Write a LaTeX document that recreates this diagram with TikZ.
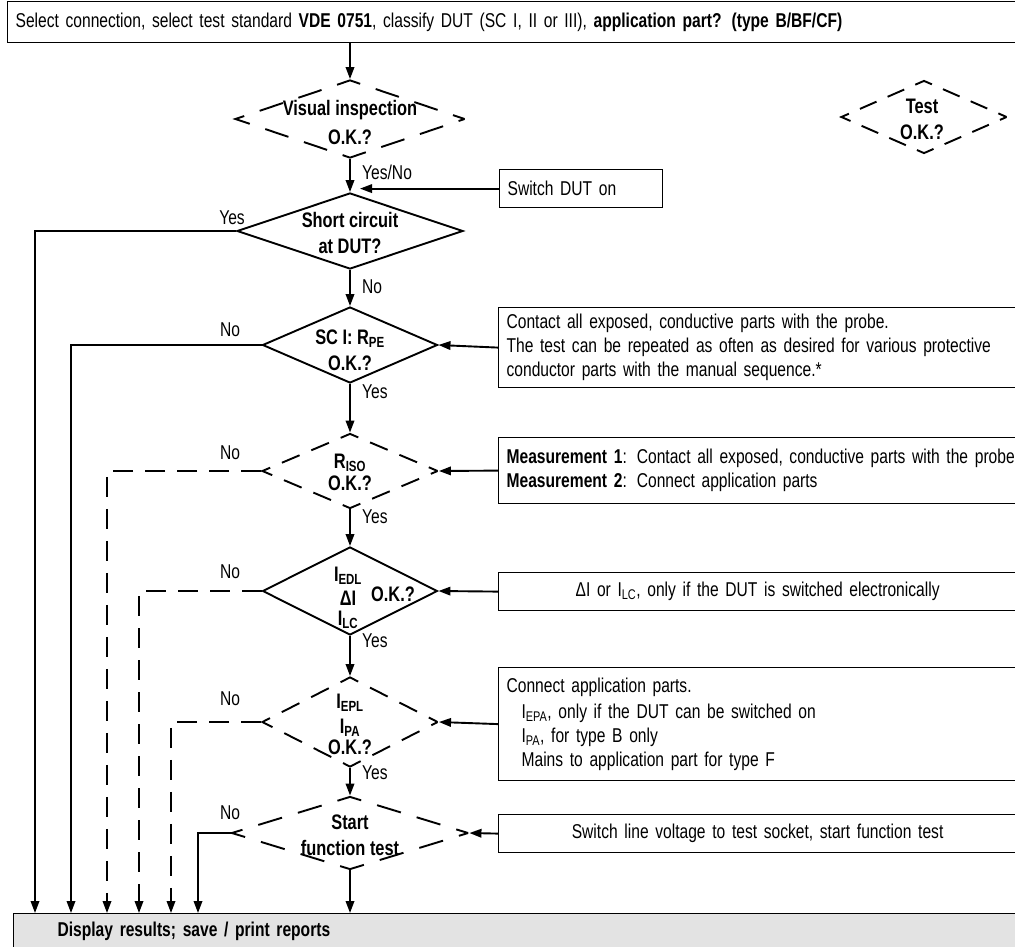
\documentclass[tikz,border=0pt]{standalone}
\usepackage{fontspec}
\setmainfont{Liberation Sans}[FakeStretch=0.78]
\usetikzlibrary{shapes.geometric,arrows.meta,positioning}

\begin{document}
\begin{tikzpicture}[
    x=1pt, y=-1pt,
    box/.style={rectangle, draw, line width=1.2pt, inner xsep=8pt, inner ysep=0pt, anchor=north west, font=\fontsize{20}{24}\selectfont},
    dia/.style={diamond, draw, line width=1.9pt, inner sep=0pt},
    okdash/.style={dash pattern=on 1.2*#1 off 0.8*#1, dash phase=0.6*#1},
    diatxt/.style={font=\fontsize{21}{26}\selectfont\bfseries, align=center, inner sep=0pt},
    lab/.style={font=\fontsize{20}{22}\selectfont, inner sep=0pt},
    arrow/.style={line width=1.9pt, -{Triangle[length=12pt,width=8.5pt]}},
    noline/.style={dash pattern=on 20pt off 12pt}
]
\useasboundingbox (0,0) rectangle (1015,947);

% Boxes
\node[box, minimum height=41pt, text width=1010pt, align=left] (sel) at (7,1)
  {Select connection, select test standard \textbf{VDE 0751}, classify DUT (SC I, II or III), \textbf{application part? (type B/BF/CF)}};
\node[box, minimum height=38pt, text width=147pt, align=left] (swon) at (499,169) {Switch DUT on};
\node[box, minimum height=80pt, text width=520pt, align=left] (contact) at (498,307)
  {Contact all exposed, conductive parts with the probe.\\
   The test can be repeated as often as desired for various protective\\
   conductor parts with the manual sequence.*};
\node[box, minimum height=66pt, text width=520pt, align=left] (meas) at (498,437)
  {\textbf{Measurement 1}: Contact all exposed, conductive parts with the probe\\
   \textbf{Measurement 2}: Connect application parts};
\node[box, minimum height=38pt, text width=502pt, align=center] (delta) at (498,572)
  {ΔI or I\textsubscript{LC}, only if the DUT is switched electronically};
\node[box, minimum height=113pt, text width=520pt, align=left] (appl) at (498,667)
  {Connect application parts.\\[2pt]
   \hspace*{15pt}I\textsubscript{EPA}, only if the DUT can be switched on\\
   \hspace*{15pt}I\textsubscript{PA}, for type B only\\
   \hspace*{15pt}Mains to application part for type F};
\node[box, minimum height=38pt, text width=502pt, align=center] (swlv) at (498,814)
  {Switch line voltage to test socket, start function test};
\node[box, minimum height=36pt, text width=960pt, inner xsep=44pt, align=left, fill=black!11] (res) at (13,913)
  {\textbf{Display results; save / print reports}};

% Decisions
\node[dia, minimum width=230pt, minimum height=78pt, okdash=20.4pt] (vis) at (350,119) {};
\node[dia, minimum width=166pt, minimum height=73pt, okdash=15.1pt] (test) at (924,117) {};
\node[dia, minimum width=226pt, minimum height=76pt] (sc) at (350,231) {};
\node[dia, minimum width=175pt, minimum height=76pt] (sci) at (350,345) {};
\node[dia, minimum width=176pt, minimum height=75pt, okdash=15.95pt] (iso) at (350,471) {};
\node[dia, minimum width=175pt, minimum height=88pt] (edl) at (350,591) {};
\node[dia, minimum width=176pt, minimum height=90pt, okdash=16.5pt] (epl) at (350,722) {};
\node[dia, minimum width=237pt, minimum height=73pt, okdash=20.7pt] (start) at (350,833) {};

\node[diatxt] (vis-t) at (350,122) {Visual inspection\\[3pt]O.K.?};
\node[diatxt] (test-t) at (922,119) {Test\\O.K.?};
\node[diatxt] (sc-t) at (350,233) {Short circuit\\at DUT?};
\node[diatxt] (sci-t) at (350,350) {SC I: R\textsubscript{PE}\\O.K.?};
\node[diatxt] (iso-t) at (350,472) {R\textsubscript{ISO}\\[-4pt]O.K.?};
\node[diatxt] (edl-t) at (348,598) {I\textsubscript{EDL}\\[-2pt]ΔI\\[-6pt]I\textsubscript{LC}};
\node[diatxt] (edl-ok) at (393,594) {O.K.?};
\node[diatxt] (epl-t) at (350,724) {I\textsubscript{EPL}\\[-1pt]I\textsubscript{PA}\\[-5pt]O.K.?};
\node[diatxt] (start-t) at (350,835) {Start\\function test};

% Labels
\node[lab, anchor=west] (vis-yn) at (362,172) {Yes/No};
\node[lab] (sc-yes) at (232,218) {Yes};
\node[lab, anchor=west] (sc-no) at (362,287) {No};
\node[lab] (sci-no) at (230,330) {No};
\node[lab, anchor=west] (sci-yes) at (362,392) {Yes};
\node[lab] (iso-no) at (230,453) {No};
\node[lab, anchor=west] (iso-yes) at (362,517) {Yes};
\node[lab] (edl-no) at (230,572) {No};
\node[lab, anchor=west] (edl-yes) at (362,641) {Yes};
\node[lab] (epl-no) at (230,699) {No};
\node[lab, anchor=west] (epl-yes) at (362,773) {Yes};
\node[lab] (start-no) at (230,813) {No};

% Main path
\draw[arrow] (sel.south -| vis.north) -- (vis.north);
\draw[arrow] (vis.south) -- (sc.north);
\draw[arrow] (sc.south) -- (sci.north);
\draw[arrow] (sci.south) -- (iso.north);
\draw[arrow] (iso.south) -- (edl.north);
\draw[arrow] (edl.south) -- (epl.north);
\draw[arrow] (epl.south) -- (start.north);
\draw[arrow] (start.south) -- (start.south |- res.north);

% Side inputs
\draw[arrow] (swon.west) -- ([xshift=10pt]swon.west -| sc.north);
\draw[arrow] (contact.west) -- (sci.east);
\draw[arrow] (meas.west) -- (iso.east);
\draw[arrow] (delta.west) -- (edl.east);
\draw[arrow] (appl.west) -- (epl.east);
\draw[arrow] (swlv.west) -- (start.east);

% Exits to results
\draw[arrow] (sc.west) -| ([xshift=22pt]res.north west);
\draw[arrow] (sci.west) -| ([xshift=58pt]res.north west);
\draw[arrow, noline] (iso.west) -| ([xshift=94pt]res.north west);
\draw[arrow, noline] (edl.west) -| ([xshift=126pt]res.north west);
\draw[arrow, noline] (epl.west) -| ([xshift=158pt]res.north west);
\draw[arrow] (start.west) -| ([xshift=185pt]res.north west);
\end{tikzpicture}
\end{document}
